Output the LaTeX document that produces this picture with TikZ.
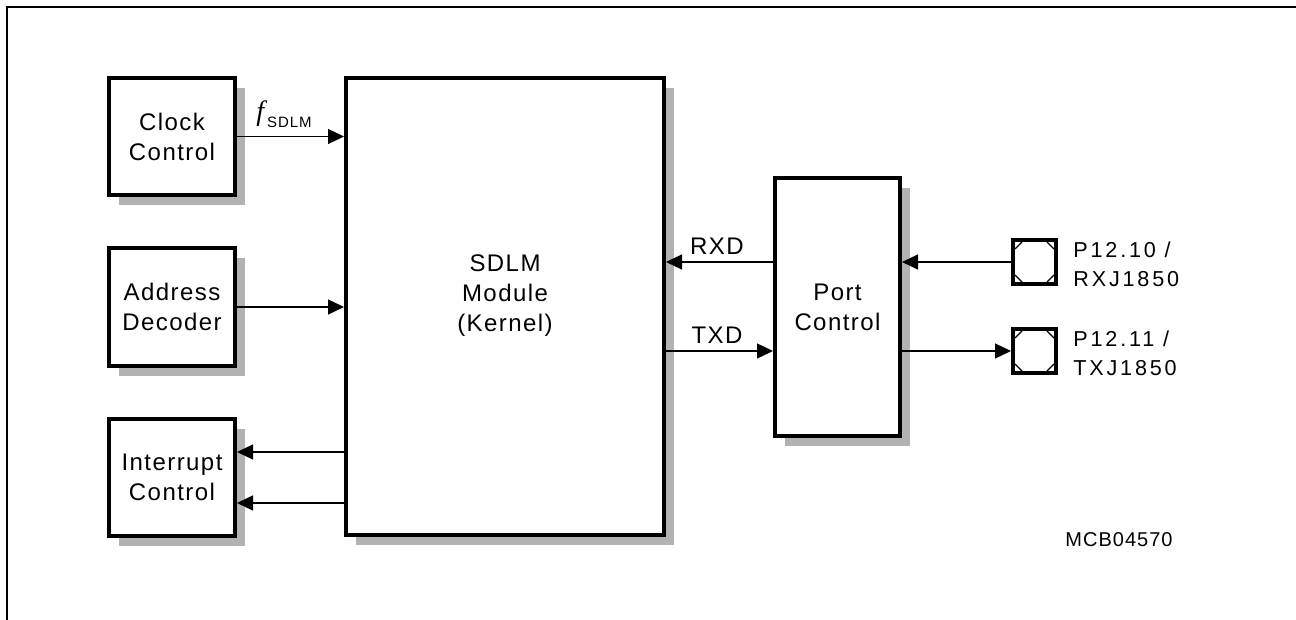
\documentclass[tikz,border=0pt]{standalone}
\usepackage{fontspec}
\setmainfont{Liberation Sans}
\newfontfamily\blockfont{Liberation Sans}[LetterSpace=6]
\newfontfamily\pinfont{Liberation Sans}[LetterSpace=13]
\newfontfamily\codefont{Liberation Sans}[LetterSpace=5]
\newfontfamily\subfont{Liberation Sans}[LetterSpace=6]
\newfontfamily\fserif{Liberation Serif}
\usetikzlibrary{arrows.meta,shadows}
\tikzset{
  blk/.style={draw, line width=2pt, fill=white, rectangle, inner sep=0pt, align=center,
    font=\blockfont\fontsize{12}{15}\selectfont,
    drop shadow={shadow xshift=5pt, shadow yshift=-5pt, fill=black!30, opacity=1}},
  smallblk/.style={blk, minimum width=63pt, minimum height=58.5pt},
  pinbox/.style={draw, line width=2pt, fill=white, rectangle, inner sep=0pt, minimum width=21.5pt, minimum height=22pt},
  arr/.style={line width=0.6pt, -{Triangle[length=8pt,width=7.5pt]}},
  sig/.style={font=\blockfont\fontsize{12}{15}\selectfont, inner sep=0pt},
  pinlbl/.style={font=\pinfont\fontsize{10.8}{14.5}\selectfont, inner sep=0pt, align=left, anchor=west},
  chamfer/.style={line width=0.6pt}
}
\begin{document}
\begin{tikzpicture}[x=0.5pt,y=-0.5pt]
\useasboundingbox (0,0) rectangle (1296,620);
% frame
\draw[line width=1pt] (7,620) -- (7,7) -- (1296,7);
% blocks
\node[smallblk] (clock) at (172,136.5) {Clock\\Control};
\node[smallblk] (addr) at (172,307) {Address\\Decoder};
\node[smallblk] (intr) at (172,477) {Interrupt\\Control};
\node[blk, minimum width=159pt, minimum height=228.5pt] (sdlm) at (505,306.5) {};
\node[sig, align=center] (sdlmtxt) at (505,296) {SDLM\\Module\\(Kernel)};
\node[blk, minimum width=62.5pt, minimum height=129pt] (port) at (837.5,307) {Port\\Control};
% pins
\node[pinbox] (p1) at (1034.5,262) {};
\node[pinbox] (p2) at (1034.5,351) {};
\foreach \p in {p1,p2}{
  \draw[chamfer] ([shift={(2pt,-5.5pt)}]\p.north west) -- ([shift={(5.5pt,-2pt)}]\p.north west);
  \draw[chamfer] ([shift={(-2pt,-5.5pt)}]\p.north east) -- ([shift={(-5.5pt,-2pt)}]\p.north east);
  \draw[chamfer] ([shift={(2pt,5.5pt)}]\p.south west) -- ([shift={(5.5pt,2pt)}]\p.south west);
  \draw[chamfer] ([shift={(-2pt,5.5pt)}]\p.south east) -- ([shift={(-5.5pt,2pt)}]\p.south east);
}
% connectors
\draw[arr] (clock.east) -- (clock.east -| sdlm.west);
\node[anchor=base west, inner sep=0pt] (flbl) at (256,121) {{\fserif\itshape\fontsize{14}{15}\selectfont f}\kern1.5pt\raisebox{-3.5pt}{\subfont\fontsize{7.5}{8}\selectfont SDLM}};
\draw[arr] (addr.east) -- (addr.east -| sdlm.west);
\coordinate (i1) at (0,452);
\coordinate (i2) at (0,503);
\draw[arr] (i1 -| sdlm.west) -- (i1 -| intr.east);
\draw[arr] (i2 -| sdlm.west) -- (i2 -| intr.east);
\draw[arr] (p1.west) -- (p1.west -| port.east);
\draw[arr] (p1 -| port.west) -- (p1 -| sdlm.east);
\draw[arr] (p2 -| sdlm.east) -- (p2 -| port.west);
\draw[arr] (p2 -| port.east) -- (p2.west);
\node[sig] (rxd) at (717,246) {RXD};
\node[sig] (txd) at (717,335) {TXD};
% pin labels
\node[pinlbl] (l1) at (1073,264) {P12.10 /\\RXJ1850};
\node[pinlbl] (l2) at (1073,353.5) {P12.11 /\\TXJ1850};
\node[font=\codefont\fontsize{10}{12}\selectfont, inner sep=0pt] (mcb) at (1119,540) {MCB04570};
\end{tikzpicture}
\end{document}
